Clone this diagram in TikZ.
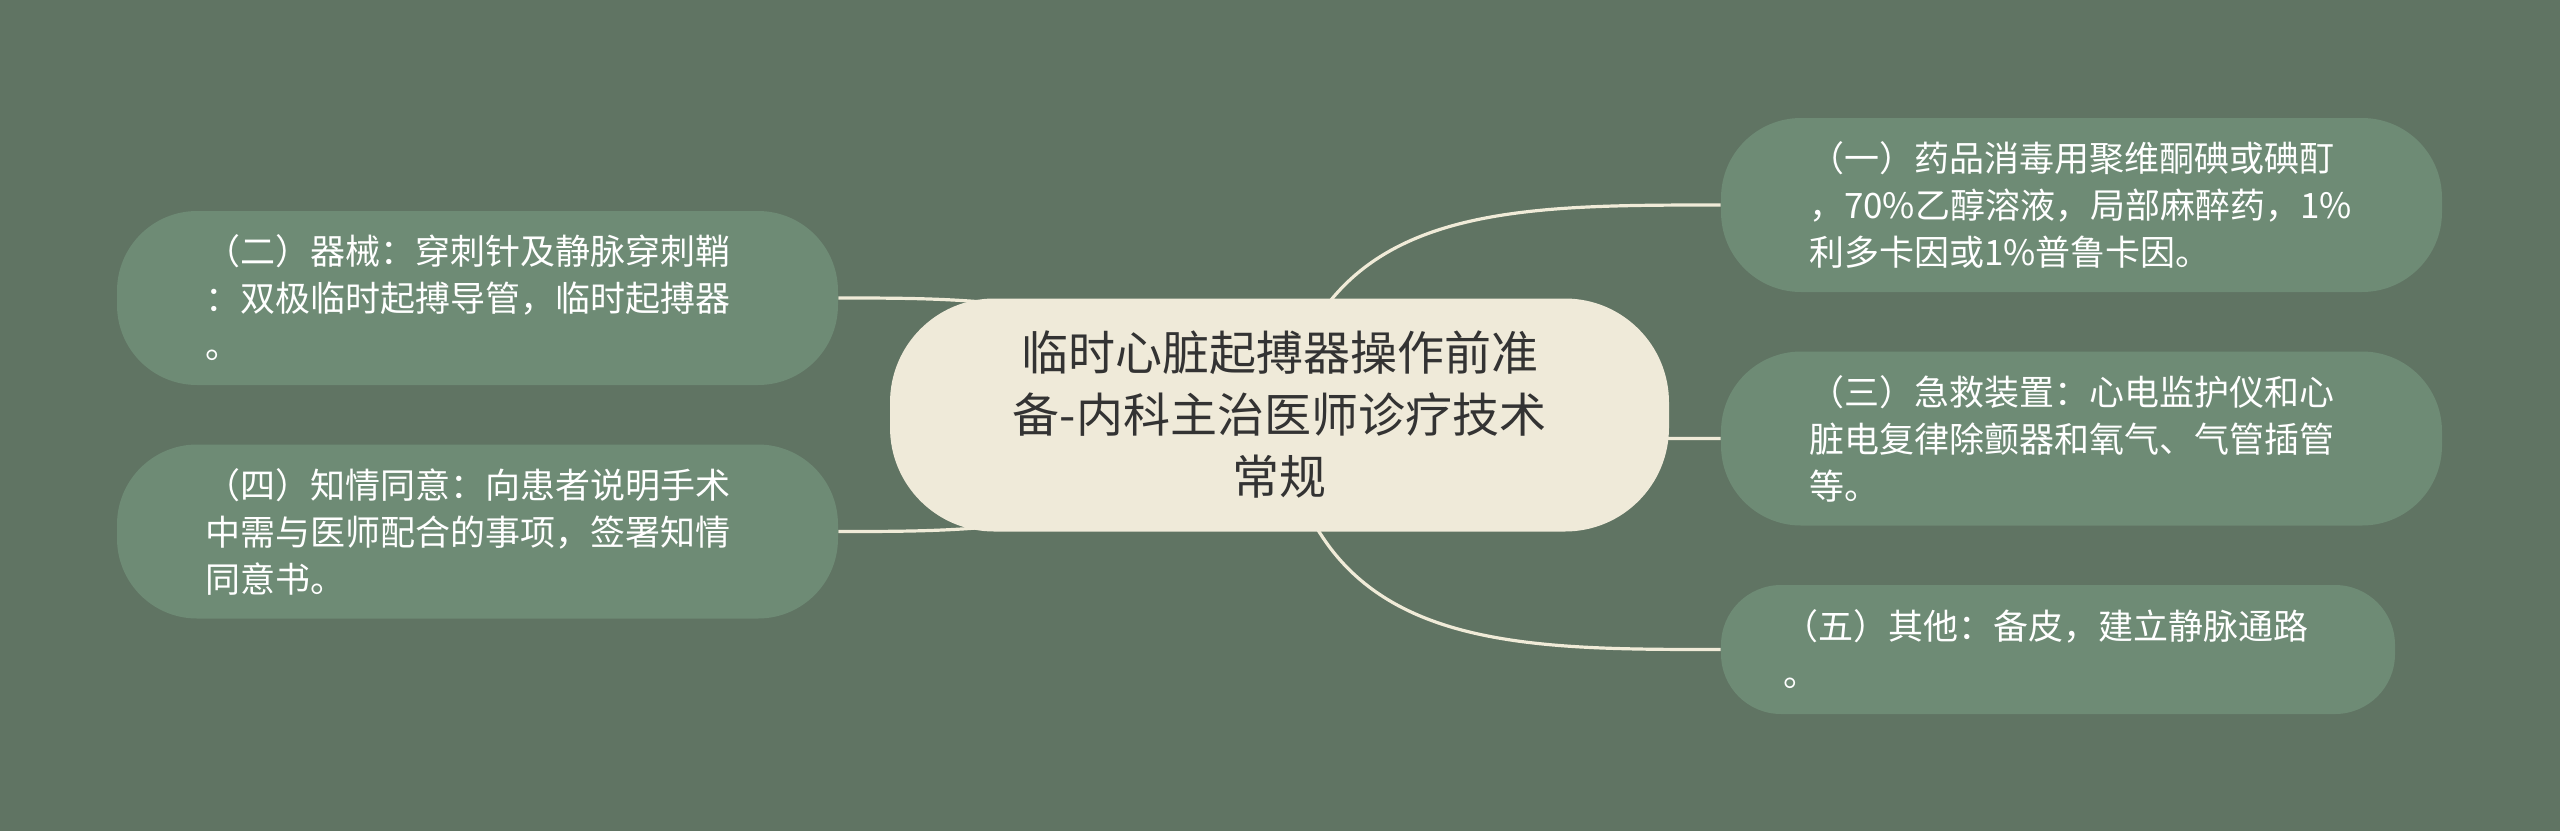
\documentclass[tikz,border=0pt]{standalone}
\usepackage{fontspec}
\newfontfamily\cjk{Noto Sans CJK SC}
\definecolor{bgcol}{HTML}{607463}
\definecolor{leafcol}{HTML}{6E8B75}
\definecolor{rootcol}{HTML}{EFEAD9}
\definecolor{linkcol}{HTML}{F0EBD8}
\definecolor{roottext}{HTML}{333333}
\pgfdeclarelayer{bg}
\pgfdeclarelayer{links}
\pgfsetlayers{bg,links,main}
\begin{document}
\begin{tikzpicture}[x=0.5pt,y=-0.5pt,
        root/.style={fill=rootcol,rounded corners=52pt,minimum width=389.5pt,minimum height=116.5pt,align=center,text=roottext,font=\cjk\fontsize{23.5}{31}\selectfont},
        leaf/.style={fill=leafcol,rounded corners=40pt,minimum height=87pt,inner xsep=44pt,text width=272.5pt,align=left,text=white,font=\cjk\fontsize{17.5}{23.5}\selectfont},
        link/.style={draw=linkcol,line width=1.6pt}]
        \useasboundingbox (0,0) rectangle (2560,831);
        \begin{pgfonlayer}{bg}\fill[bgcol] (0,0) rectangle (2560,831);\end{pgfonlayer}
        \node[root] (root) at (1279.5,415) {临时心脏起搏器操作前准\\备-内科主治医师诊疗技术\\常规};
        \node[leaf] (n1) at (2081.5,205) {（一）药品消毒用聚维酮碘或碘酊\\，70\%乙醇溶液，局部麻醉药，1\%\\利多卡因或1\%普鲁卡因。};
        \node[leaf] (n3) at (2081.5,438.5) {（三）急救装置：心电监护仪和心\\脏电复律除颤器和氧气、气管插管\\等。};
        \node[leaf,minimum height=64.5pt,inner xsep=31pt,text width=275pt,rounded corners=30pt] (n5) at (2058,649.5) {（五）其他：备皮，建立静脉通路\\。};
        \node[leaf] (n2) at (477.5,298) {（二）器械：穿刺针及静脉穿刺鞘\\：双极临时起搏导管，临时起搏器\\。};
        \node[leaf] (n4) at (477.5,531.5) {（四）知情同意：向患者说明手术\\中需与医师配合的事项，签署知情\\同意书。};
        \begin{pgfonlayer}{links}
        \draw[link] (root.center) .. controls +(45,-210) and +(-220,0) .. (n1.west);
        \draw[link] (root.center) .. controls +(40,23.5) and +(-220,0) .. (n3.west);
        \draw[link] (root.center) .. controls +(35,234.5) and +(-220,0) .. (n5.west);
        \draw[link] (root.center) .. controls +(-150,-117) and +(150,0) .. (n2.east);
        \draw[link] (root.center) .. controls +(-150,116.5) and +(150,0) .. (n4.east);
        \end{pgfonlayer}
\end{tikzpicture}
\end{document}
